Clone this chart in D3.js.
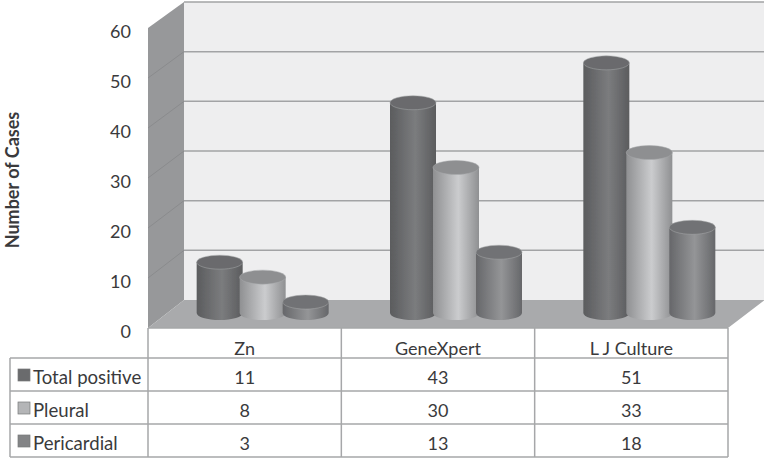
<!DOCTYPE html>
<html>
<head>
<meta charset="utf-8">
<script src="https://cdn.jsdelivr.net/npm/d3@7"></script>
<style>
  html, body { margin: 0; padding: 0; background: #fff; }
  svg { display: block; }
  text { font-family: Lato, "Open Sans", sans-serif; fill: #3a3a3c; }
</style>
</head>
<body>
<div id="chart"></div>
<script>
const categories = ['Zn', 'GeneXpert', 'L J Culture'];
const seriesNames = ['Total positive', 'Pleural', 'Pericardial'];
const totalPositive = [11, 43, 51];
const pleural = [8, 30, 33];
const pericardial = [3, 13, 18];
const yTicks = [0, 10, 20, 30, 40, 50, 60];
const allValues = [totalPositive, pleural, pericardial];

const width = 764, height = 458;
const depthX = 36;
const wall = { left: 184, right: 770, top: 2, bottom: 300 };
const front = { left: 148, right: 728, top: 28, bottom: 328 };
const table = { left: 10, header: 358, rows: [358, 391, 424, 457] };
const barBase = 313;

// colours per series: edge, middle of the cylinder, and the top cap
const looks = [
  { edge: '#5b5c5e', mid: '#7b7c7e', cap: '#6a6b6d', swatch: '#6a6b6d' },
  { edge: '#8f9092', mid: '#cbccce', cap: '#8e8f91', swatch: '#b4b5b7' },
  { edge: '#66676a', mid: '#949597', cap: '#717274', swatch: '#838486' }
];

const svg = d3.select('#chart').append('svg')
  .attr('width', width)
  .attr('height', height);

const defs = svg.append('defs');
looks.forEach((l, i) => {
  const g = defs.append('linearGradient').attr('id', 'cyl' + i);
  g.append('stop').attr('offset', '0%').attr('stop-color', l.edge);
  g.append('stop').attr('offset', '55%').attr('stop-color', l.mid);
  g.append('stop').attr('offset', '100%').attr('stop-color', l.edge);
});
defs.append('filter').attr('id', 'soft')
  .append('feGaussianBlur').attr('stdDeviation', 0.6);

// scales
const yBack = d3.scaleLinear().domain([0, 60]).range([wall.bottom, wall.top]);
const yFront = d3.scaleLinear().domain([0, 60]).range([front.bottom, front.top]);
const yBar = d3.scaleLinear().domain([0, 60]).range([317, 18]);
const xCat = d3.scaleBand().domain(categories).range([front.left + depthX / 2, front.right + depthX / 2]);
const xSeries = d3.scalePoint().domain(seriesNames).range([-43, 43]);
const xTable = d3.scaleBand().domain(categories).range([front.left, front.right]);

const plot = svg.append('g').attr('filter', 'url(#soft)');

// walls and floor
plot.append('rect')
  .attr('x', wall.left).attr('y', wall.top)
  .attr('width', wall.right - wall.left).attr('height', wall.bottom - wall.top)
  .attr('fill', '#eeeeef');
plot.append('polygon')
  .attr('points', [[front.left, front.top], [wall.left, wall.top], [wall.left, wall.bottom], [front.left, front.bottom]].join(' '))
  .attr('fill', '#97989a');
plot.append('polygon')
  .attr('points', [[front.left, front.bottom], [wall.left, wall.bottom], [wall.right, wall.bottom], [front.right + 42, front.bottom - 32], [front.right, front.bottom]].join(' '))
  .attr('fill', '#a9aaac');

// gridlines on back wall and side wall
plot.selectAll('.grid').data(yTicks.filter(d => d > 0)).join('line')
  .attr('class', 'grid')
  .attr('x1', wall.left).attr('x2', wall.right)
  .attr('y1', d => yBack(d)).attr('y2', d => yBack(d))
  .attr('stroke', '#a2a3a5').attr('stroke-width', 1.5);
plot.selectAll('.sidegrid').data(yTicks.filter(d => d > 0 && d < 60)).join('line')
  .attr('class', 'sidegrid')
  .attr('x1', front.left).attr('x2', wall.left)
  .attr('y1', d => yFront(d)).attr('y2', d => yBack(d))
  .attr('stroke', '#8a8b8d').attr('stroke-width', 1);

// cylinders
const rx = 23, ry = 7;
seriesNames.forEach((name, s) => {
  const g = plot.append('g').attr('class', 'series');
  const cx = d => xCat(d.cat) + xCat.bandwidth() / 2 + xSeries(name);
  const rows = categories.map((cat, i) => ({ cat, value: allValues[s][i] }));

  g.selectAll('path').data(rows).join('path')
    .attr('d', d => {
      const top = yBar(d.value);
      return `M${cx(d) - rx},${top}L${cx(d) - rx},${barBase}A${rx},${ry} 0 0 0 ${cx(d) + rx},${barBase}L${cx(d) + rx},${top}Z`;
    })
    .attr('fill', `url(#cyl${s})`);
  g.selectAll('ellipse').data(rows).join('ellipse')
    .attr('cx', cx)
    .attr('cy', d => yBar(d.value))
    .attr('rx', rx).attr('ry', ry)
    .attr('fill', looks[s].cap)
    .attr('stroke', '#a9aaac').attr('stroke-width', 0.5);
});

// y axis
const axis = svg.append('g')
  .attr('transform', 'translate(137,4)')
  .call(d3.axisLeft(yFront).tickValues(yTicks).tickSize(0).tickPadding(6));
axis.select('.domain').remove();
axis.selectAll('text').style('font-size', '18px').style('font-family', 'Lato, sans-serif').attr('fill', '#3a3a3c');

svg.append('text')
  .attr('transform', 'translate(19,180) rotate(-90)')
  .attr('text-anchor', 'middle')
  .style('font-size', '18px').style('font-weight', 700)
  .text('Number of Cases');

// data table
const tableG = svg.append('g').attr('stroke', '#a6a7a9').attr('stroke-width', 1.5);
const vLines = [front.left].concat(categories.map(c => xTable(c) + xTable.bandwidth()));
tableG.selectAll('.v').data(vLines).join('line')
  .attr('class', 'v')
  .attr('x1', d => d).attr('x2', d => d)
  .attr('y1', front.bottom).attr('y2', table.rows[3]);
tableG.append('line')
  .attr('x1', table.left).attr('x2', table.left)
  .attr('y1', table.rows[0]).attr('y2', table.rows[3]);
tableG.append('line')
  .attr('x1', front.left).attr('x2', front.right)
  .attr('y1', front.bottom).attr('y2', front.bottom);
tableG.selectAll('.h').data(table.rows).join('line')
  .attr('class', 'h')
  .attr('x1', table.left).attr('x2', front.right)
  .attr('y1', d => d).attr('y2', d => d);

svg.selectAll('.cat').data(categories).join('text')
  .attr('class', 'cat')
  .attr('x', d => xTable(d) + xTable.bandwidth() / 2)
  .attr('y', 355)
  .attr('text-anchor', 'middle')
  .style('font-size', '18px')
  .text(d => d);

seriesNames.forEach((name, s) => {
  const top = table.rows[s];
  svg.append('rect')
    .attr('x', 18).attr('y', top + 11)
    .attr('width', 12).attr('height', 12)
    .attr('fill', looks[s].swatch)
    .attr('stroke', '#77787a').attr('stroke-width', 0.7);
  svg.append('text')
    .attr('x', 33).attr('y', top + 26)
    .style('font-size', '18.6px')
    .text(name);
  svg.selectAll('.val' + s).data(categories).join('text')
    .attr('class', 'val' + s)
    .attr('x', d => xTable(d) + xTable.bandwidth() / 2)
    .attr('y', top + 26)
    .attr('text-anchor', 'middle')
    .style('font-size', '18px')
    .text((d, i) => allValues[s][i]);
});
</script>
</body>
</html>
